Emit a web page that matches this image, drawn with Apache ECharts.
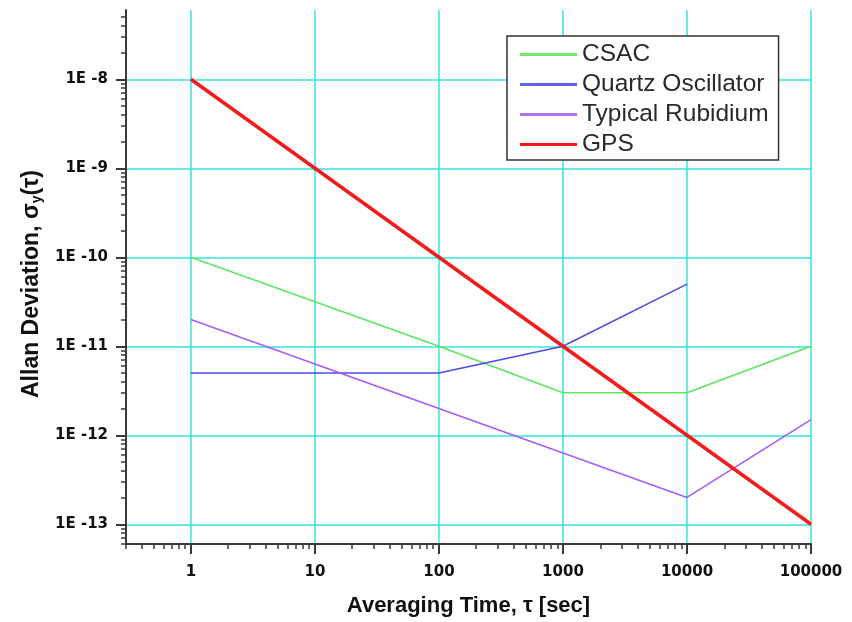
<!DOCTYPE html>
<html>
<head>
<meta charset="utf-8">
<script src="https://cdn.jsdelivr.net/npm/echarts@6/dist/echarts.min.js"></script>
<style>
html,body{margin:0;padding:0;background:#fff;}
#chart{width:852px;height:622px;}
</style>
</head>
<body>
<div id="chart"></div>
<script>
// ---- data ----
const seriesNames = ['CSAC', 'Quartz Oscillator', 'Typical Rubidium', 'GPS'];
const csacTau = [1, 100, 1000, 10000, 100000];
const csacDev = [1e-10, 1e-11, 3e-12, 3e-12, 1e-11];
const quartzTau = [1, 100, 1000, 10000];
const quartzDev = [5e-12, 5e-12, 1e-11, 5e-11];
const rubidiumTau = [1, 10000, 100000];
const rubidiumDev = [2e-11, 2e-13, 1.5e-12];
const gpsTau = [1, 100000];
const gpsDev = [1e-8, 1e-13];

const xMajorTicks = [1, 10, 100, 1000, 10000, 100000];
const yMajorTicks = [1e-13, 1e-12, 1e-11, 1e-10, 1e-9, 1e-8];
const minorMultiples = [2, 3, 4, 5, 6, 7, 8, 9];
const xMin = 0.3, xMax = 100000;
const yMin = 6e-14, yMax = 6e-8;

function minorTicks(decadeStarts, lo, hi) {
  const out = [];
  decadeStarts.forEach(d => {
    minorMultiples.forEach(m => {
      const v = d * m;
      if (v >= lo * 0.9999 && v <= hi * 1.0001) out.push(v);
    });
  });
  return out;
}
const xMinorTicks = minorTicks([0.1, 1, 10, 100, 1000, 10000], xMin, xMax);
const yMinorTicks = minorTicks([1e-14, 1e-13, 1e-12, 1e-11, 1e-10, 1e-9, 1e-8], yMin, yMax);

function pairs(xs, ys) { return xs.map((x, i) => [x, ys[i]]); }

const axisColor = '#3a3a3a';
const gridColor = '#33e3e3';
const tickFont = { fontFamily: 'DejaVu Sans', fontWeight: 'bold', fontSize: 15, color: '#111' };

const chart = echarts.init(document.getElementById('chart'), null, { renderer: 'canvas' });
chart.setOption({
  animation: false,
  backgroundColor: '#fff',
  grid: { left: 126, right: 41, top: 10, bottom: 76, containLabel: false },
  legend: {
    data: seriesNames,
    orient: 'vertical',
    left: 507, top: 36,
    padding: [6, 10, 3, 13],
    itemWidth: 57, itemHeight: 3, itemGap: 5,
    backgroundColor: '#fff',
    borderColor: '#333', borderWidth: 1.5,
    textStyle: { fontFamily: 'Liberation Sans', fontSize: 24.5, color: '#2a2a2a', lineHeight: 24 },
    icon: 'rect'
  },
  xAxis: [
    {
      type: 'log', min: xMin, max: xMax, position: 'bottom',
      name: 'Averaging Time, τ [sec]', nameLocation: 'middle', nameGap: 51,
      nameTextStyle: { fontFamily: 'Liberation Sans', fontWeight: 'bold', fontSize: 22, color: '#111' },
      axisLine: { show: true, lineStyle: { color: axisColor, width: 2 } },
      axisTick: { show: true, customValues: xMajorTicks, length: 10, lineStyle: { color: axisColor, width: 2 } },
      axisLabel: Object.assign({ customValues: xMajorTicks, margin: 21, formatter: v => String(Math.round(v)) }, tickFont),
      splitLine: { show: true, lineStyle: { color: gridColor, width: 1.5 } }
    },
    {
      type: 'log', min: xMin, max: xMax, position: 'bottom', offset: 0,
      axisLine: { show: false },
      axisTick: { show: true, customValues: xMinorTicks, length: 5, lineStyle: { color: axisColor, width: 1.5 } },
      axisLabel: { show: false },
      splitLine: { show: false }
    }
  ],
  yAxis: [
    {
      type: 'log', min: yMin, max: yMax, position: 'left',
      name: 'Allan Deviation, σ{sub|y}(τ)', nameLocation: 'middle', nameGap: 80, nameRotate: 90,
      nameTextStyle: {
        fontFamily: 'Liberation Sans', fontWeight: 'bold', fontSize: 23, color: '#111',
        padding: [0, 14, 0, 0],
        rich: { sub: { fontFamily: 'Liberation Sans', fontWeight: 'bold', fontSize: 14, color: '#111', verticalAlign: 'bottom', padding: [10, 0, 0, 0] } }
      },
      axisLine: { show: true, lineStyle: { color: axisColor, width: 2 } },
      axisTick: { show: true, customValues: yMajorTicks, length: 10, lineStyle: { color: axisColor, width: 2 } },
      axisLabel: Object.assign({ customValues: yMajorTicks, margin: 18, lineHeight: 22, verticalAlign: 'middle', padding: [6, 0, 0, 0],
        formatter: v => '1E -' + Math.round(-Math.log10(v)) }, tickFont),
      splitLine: { show: true, lineStyle: { color: gridColor, width: 1.5 } }
    },
    {
      type: 'log', min: yMin, max: yMax, position: 'left', offset: 0,
      axisLine: { show: false },
      axisTick: { show: true, customValues: yMinorTicks, length: 5, lineStyle: { color: axisColor, width: 1.5 } },
      axisLabel: { show: false },
      splitLine: { show: false }
    }
  ],
  series: [
    { name: 'CSAC', type: 'line', data: pairs(csacTau, csacDev), showSymbol: false, symbol: 'none',
      lineStyle: { color: '#5fe65f', width: 1.5 }, itemStyle: { color: '#6ee86e' } },
    { name: 'Quartz Oscillator', type: 'line', data: pairs(quartzTau, quartzDev), showSymbol: false, symbol: 'none',
      lineStyle: { color: '#4b4be6', width: 1.5 }, itemStyle: { color: '#6060ea' } },
    { name: 'Typical Rubidium', type: 'line', data: pairs(rubidiumTau, rubidiumDev), showSymbol: false, symbol: 'none',
      lineStyle: { color: '#a65af5', width: 1.5 }, itemStyle: { color: '#b070f5' } },
    { name: 'GPS', type: 'line', data: pairs(gpsTau, gpsDev), showSymbol: false, symbol: 'none',
      lineStyle: { color: '#f21c1c', width: 3.5 }, itemStyle: { color: '#f21c1c' } }
  ]
});
</script>
</body>
</html>
